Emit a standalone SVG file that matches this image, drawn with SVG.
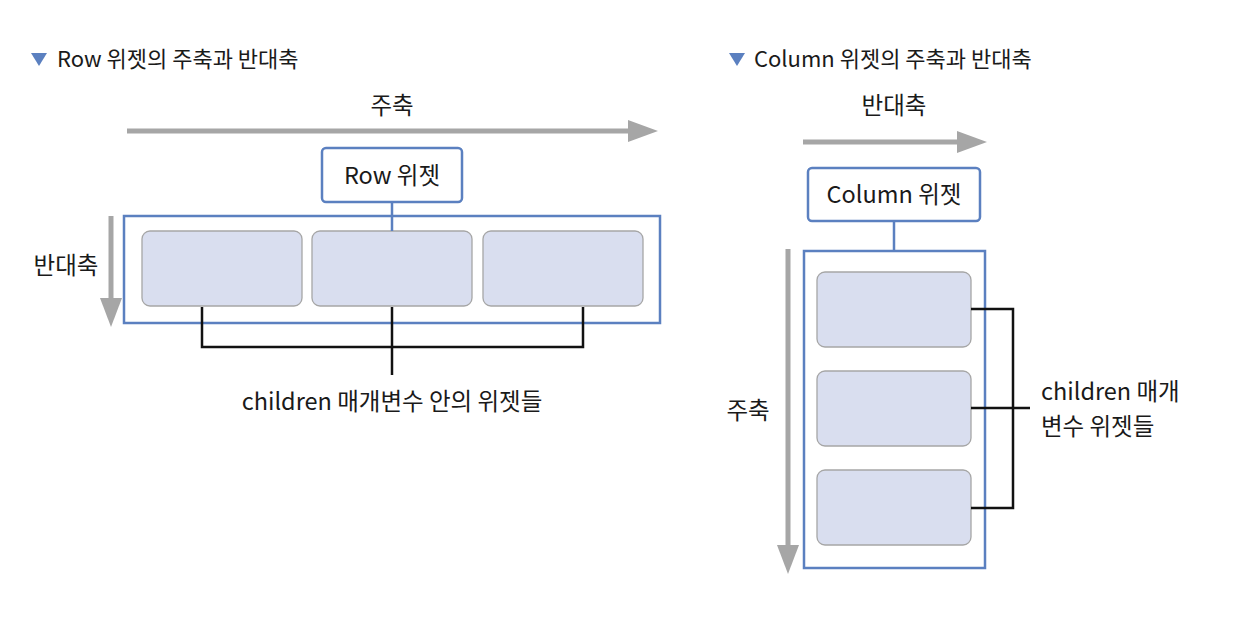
<svg xmlns="http://www.w3.org/2000/svg" width="1244" height="618" viewBox="0 0 1244 618">
<defs>
<style>
text{font-family:"Noto Sans CJK KR","Noto Sans",sans-serif;fill:#1a1a1a}
.t{font-size:22px}
.l{font-size:23.5px}
.ax{stroke:#a6a6a6;stroke-width:5;fill:none}
.ah{fill:#a6a6a6}
.box{fill:#fff;stroke:#5b80c0;stroke-width:2.5}
.ch{fill:#d9deef;stroke:#a6a6a6;stroke-width:1.3}
.bl{stroke:#5b80c0;stroke-width:2.5;fill:none}
.br{stroke:#111;stroke-width:2.5;fill:none}
.tri{fill:#5b80c0}
</style>
</defs>
<rect width="1244" height="618" fill="#fff"/>
<g id="title-left">
<polygon class="tri" points="31,53 47,53 39,66"/>
<text class="t" x="57" y="67">Row 위젯의 주축과 반대축</text>
</g>
<g id="title-right">
<polygon class="tri" points="729,53 745,53 737,66"/>
<text class="t" x="754" y="67">Column 위젯의 주축과 반대축</text>
</g>
<g id="axes">
<line class="ax" x1="127" y1="131" x2="632" y2="131"/>
<polygon class="ah" points="628,120 658,131 628,142"/>
<text class="l" x="392" y="114" text-anchor="middle">주축</text>
<line class="ax" x1="111" y1="216" x2="111" y2="302"/>
<polygon class="ah" points="100,298 122,298 111,327"/>
<text class="l" x="66" y="274" text-anchor="middle">반대축</text>
<line class="ax" x1="803" y1="142" x2="960" y2="142"/>
<polygon class="ah" points="957,131 987,142 957,153"/>
<text class="l" x="894" y="114" text-anchor="middle">반대축</text>
<line class="ax" x1="788" y1="249" x2="788" y2="548"/>
<polygon class="ah" points="777,545 799,545 788,574"/>
<text class="l" x="748" y="419" text-anchor="middle">주축</text>
</g>
<g id="row-widget">
<rect class="box" x="322" y="148" width="140" height="54" rx="4"/>
<text class="l" x="392" y="184" text-anchor="middle">Row 위젯</text>
</g>
<g id="row-container">
<rect class="box" x="124" y="216" width="536" height="107"/>
</g>
<g id="row-child-1"><rect class="ch" x="142" y="231" width="160" height="75" rx="8"/></g>
<g id="row-child-2"><rect class="ch" x="312" y="231" width="160" height="75" rx="8"/></g>
<g id="row-child-3"><rect class="ch" x="483" y="231" width="160" height="75" rx="8"/></g>
<g id="row-children-label">
<text class="l" x="392" y="410" text-anchor="middle">children 매개변수 안의 위젯들</text>
</g>
<g id="column-widget">
<rect class="box" x="808" y="168" width="172" height="53" rx="4"/>
<text class="l" x="894" y="203" text-anchor="middle">Column 위젯</text>
</g>
<g id="column-container">
<rect class="box" x="804" y="251" width="181" height="317"/>
</g>
<g id="col-child-1"><rect class="ch" x="817" y="272" width="154" height="75" rx="8"/></g>
<g id="col-child-2"><rect class="ch" x="817" y="371" width="154" height="75" rx="8"/></g>
<g id="col-child-3"><rect class="ch" x="817" y="470" width="154" height="75" rx="8"/></g>
<g id="col-children-label">
<text class="l" x="1041" y="400">children 매개</text>
<text class="l" x="1041" y="435">변수 위젯들</text>
</g>
<g id="connectors">
<line class="bl" x1="392" y1="202" x2="392" y2="231"/>
<line class="bl" x1="894" y1="221" x2="894" y2="251"/>
<polyline class="br" points="202,307 202,347 583,347 583,307"/>
<line class="br" x1="392" y1="307" x2="392" y2="375"/>
<polyline class="br" points="971,309 1013,309 1013,508 971,508"/>
<line class="br" x1="971" y1="408" x2="1030" y2="408"/>
</g>
</svg>
